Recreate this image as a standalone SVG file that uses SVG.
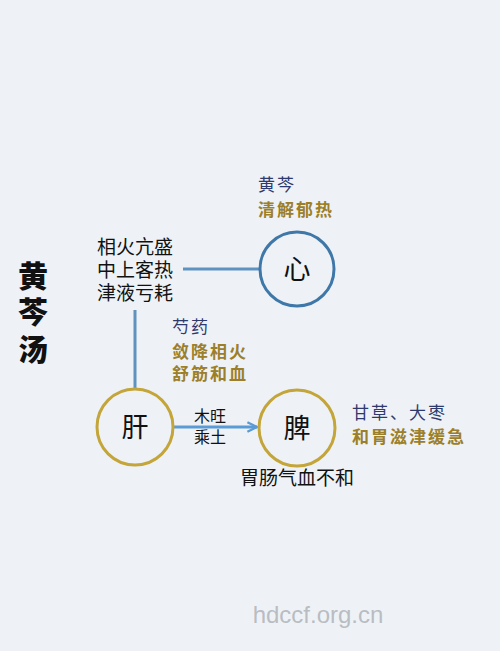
<svg xmlns="http://www.w3.org/2000/svg" width="500" height="651" viewBox="0 0 500 651">
<style>
text{font-family:"Noto Sans CJK SC","Noto Sans CJK TC",sans-serif;}
.blk{fill:#111;font-size:19px;}
.navy{fill:#2e3a6e;font-size:17px;letter-spacing:2px;}
.gold{fill:#9c7f2a;font-size:17px;letter-spacing:2px;font-weight:bold;}
.big{fill:#111;font-size:27px;text-anchor:middle;}
.title{fill:#111;font-size:30px;font-weight:900;text-anchor:middle;}
.heart{fill:none;stroke:#3f78a8;stroke-width:3;}
.gc{fill:none;stroke:#c4a53a;stroke-width:3;}
.line{stroke:#5e93bf;stroke-width:3;fill:none;}
</style>
<defs>
<marker id="ah" viewBox="0 0 10 10" refX="9" refY="5" markerWidth="4" markerHeight="4" orient="auto" markerUnits="strokeWidth">
<path d="M1,1 L9,5 L1,9" fill="none" stroke="#5b9bd5" stroke-width="2"/>
</marker>
</defs>
<rect width="500" height="651" fill="#eef2f6"/>
<g id="title">
<text class="title"><tspan x="33" y="287">黄</tspan><tspan x="33" y="323">芩</tspan><tspan x="33" y="360">汤</tspan></text>
</g>
<g id="connectors">
<line class="line" x1="183" y1="269" x2="259" y2="269"/>
<line class="line" x1="135" y1="310" x2="135" y2="389"/>
<line x1="173" y1="427" x2="257" y2="427" stroke="#5b9bd5" stroke-width="3" marker-end="url(#ah)"/>
</g>
<g id="symptoms">
<text class="blk"><tspan x="97" y="254">相火亢盛</tspan><tspan x="97" y="277">中上客热</tspan><tspan x="97" y="300">津液亏耗</tspan></text>
</g>
<g id="heart">
<circle class="heart" cx="297" cy="269" r="37"/>
<text class="big" x="297" y="279">心</text>
</g>
<g id="huangqin">
<text><tspan class="navy" x="258" y="191">黄芩</tspan><tspan class="gold" x="258" y="216">清解郁热</tspan></text>
</g>
<g id="liver">
<circle class="gc" cx="135" cy="427" r="38"/>
<text class="big" x="135" y="437">肝</text>
</g>
<g id="shaoyao">
<text><tspan class="navy" x="172" y="333">芍药</tspan><tspan class="gold" x="172" y="358">敛降相火</tspan><tspan class="gold" x="172" y="380">舒筋和血</tspan></text>
</g>
<g id="arrowlabel">
<text style="font-size:16px;fill:#111"><tspan x="194" y="422">木旺</tspan><tspan x="194" y="443">乘土</tspan></text>
</g>
<g id="spleen">
<circle class="gc" cx="297" cy="428" r="38"/>
<text class="big" x="297" y="438">脾</text>
<text class="blk" x="240" y="485">胃肠气血不和</text>
</g>
<g id="gancao">
<text><tspan class="navy" x="352" y="419">甘草、大枣</tspan><tspan class="gold" x="352" y="443">和胃滋津缓急</tspan></text>
</g>
<text x="318" y="623" style="font-family:'Liberation Sans',Arial,sans-serif;font-size:24px;fill:#b9bdc2;text-anchor:middle">hdccf.org.cn</text>
</svg>
